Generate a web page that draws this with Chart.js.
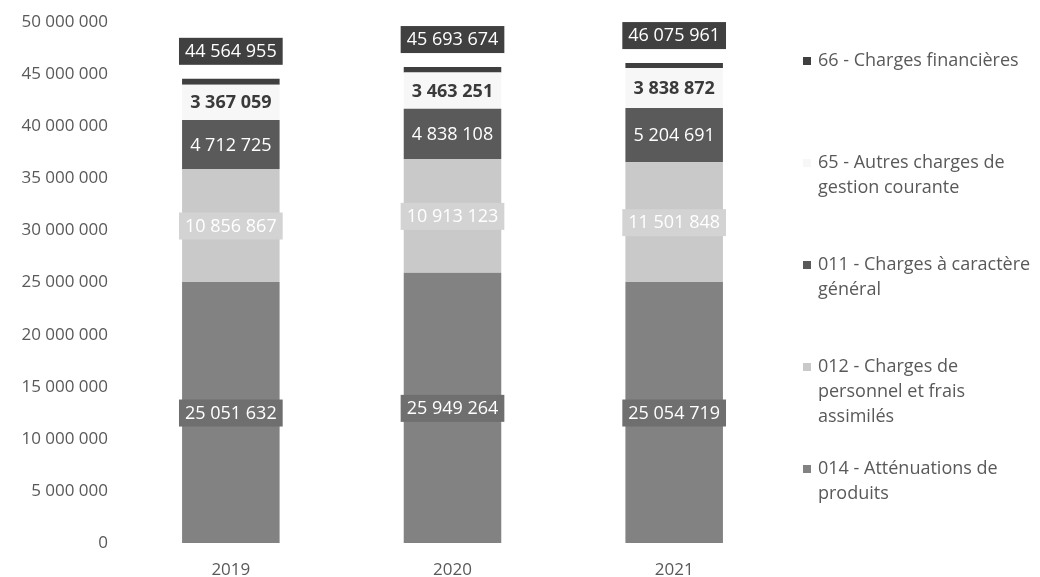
<!DOCTYPE html>
<html>
<head>
<meta charset="utf-8">
<script src="https://cdn.jsdelivr.net/npm/chart.js@4.4.0/dist/chart.umd.min.js"></script>
<style>
  html, body { margin: 0; background: #fff; }
  #wrap { width: 1040px; height: 577px; position: relative; }
</style>
</head>
<body>
<div id="wrap"><canvas id="chargesChart"></canvas></div>
<script>
// Data
const years = ['2019', '2020', '2021'];
const attenuations = [25051632, 25949264, 25054719];      // 014
const personnel = [10856867, 10913123, 11501848];         // 012
const chargesGenerales = [4712725, 4838108, 5204691];     // 011
const autresCharges = [3367059, 3463251, 3838872];        // 65
const chargesFinancieres = [576672, 529928, 475831];      // 66
const totals = [44564955, 45693674, 46075961];
const yMax = 50000000;
const yStep = 5000000;

const FONT = "'Open Sans', sans-serif";
const TXT = '#595959';

function fmt(n) {
  return String(n).replace(/\B(?=(\d{3})+(?!\d))/g, ' ');
}

// label look for each stacked segment (null = no label)
const labelStyles = [
  { box: '#6f6f6f', color: '#ffffff', bold: false },
  { box: '#d3d3d3', color: '#ffffff', bold: false },
  { box: null, color: '#ffffff', bold: false },
  { box: null, color: '#3a3a3a', bold: true },
  null
];

const legendLines = [
  ['66 - Charges financières'],
  ['65 - Autres charges de', 'gestion courante'],
  ['011 - Charges à caractère', 'général'],
  ['012 - Charges de', 'personnel et frais', 'assimilés'],
  ['014 - Atténuations de', 'produits']
];

const datasets = [
  { label: '014 - Atténuations de produits', data: attenuations, backgroundColor: '#828282' },
  { label: '012 - Charges de personnel et frais assimilés', data: personnel, backgroundColor: '#c9c9c9' },
  { label: '011 - Charges à caractère général', data: chargesGenerales, backgroundColor: '#5a5a5a' },
  { label: '65 - Autres charges de gestion courante', data: autresCharges, backgroundColor: '#f7f7f7' },
  { label: '66 - Charges financières', data: chargesFinancieres, backgroundColor: '#3f3f3f' }
];

function drawBoxText(ctx, text, x, y, style) {
  ctx.font = (style.bold ? 'bold ' : '') + '18px ' + FONT;
  const w = ctx.measureText(text).width;
  if (style.box) {
    ctx.fillStyle = style.box;
    ctx.fillRect(x - w / 2 - 6, y - 13, w + 12, 27);
  }
  ctx.fillStyle = style.color;
  ctx.textAlign = 'center';
  ctx.textBaseline = 'middle';
  ctx.fillText(text, x, y + 1);
}

const segmentLabels = {
  id: 'segmentLabels',
  afterDatasetsDraw(chart) {
    const ctx = chart.ctx;
    ctx.save();
    chart.data.datasets.forEach((ds, i) => {
      const style = labelStyles[i];
      if (!style) return;
      chart.getDatasetMeta(i).data.forEach((bar, j) => {
        drawBoxText(ctx, fmt(ds.data[j]), bar.x, (bar.y + bar.base) / 2, style);
      });
    });
    const last = chart.getDatasetMeta(chart.data.datasets.length - 1);
    last.data.forEach((bar, j) => {
      drawBoxText(ctx, fmt(totals[j]), bar.x, bar.y - 28, { box: '#404040', color: '#ffffff', bold: false });
    });
    ctx.restore();
  }
};

const sideLegend = {
  id: 'sideLegend',
  afterDraw(chart) {
    const ctx = chart.ctx;
    ctx.save();
    ctx.font = '18px ' + FONT;
    ctx.textBaseline = 'middle';
    ctx.textAlign = 'left';
    const order = datasets.slice().reverse();
    legendLines.forEach((lines, i) => {
      const top = 61 + i * 102;
      ctx.fillStyle = order[i].backgroundColor;
      ctx.fillRect(803, top - 4, 8, 8);
      ctx.fillStyle = TXT;
      lines.forEach((line, k) => ctx.fillText(line, 818, top + k * 25));
    });
    ctx.restore();
  }
};

new Chart(document.getElementById('chargesChart'), {
  type: 'bar',
  data: { labels: years, datasets: datasets },
  plugins: [segmentLabels, sideLegend],
  options: {
    responsive: true,
    maintainAspectRatio: false,
    animation: false,
    layout: { padding: { top: 22, right: 255, bottom: 0, left: 0 } },
    plugins: { legend: { display: false }, tooltip: { enabled: false } },
    datasets: { bar: { categoryPercentage: 0.88, barPercentage: 0.5 } },
    scales: {
      x: {
        stacked: true,
        grid: { display: false },
        border: { display: false },
        ticks: { color: TXT, font: { family: FONT, size: 17 }, padding: 9 },
        afterFit(scale) { scale.height = 34; }
      },
      y: {
        stacked: true,
        min: 0,
        max: yMax,
        grid: { display: false, drawTicks: false },
        border: { display: false },
        ticks: {
          stepSize: yStep,
          color: TXT,
          font: { family: FONT, size: 17 },
          padding: 12,
          callback: v => fmt(v)
        },
        afterFit(scale) { scale.width = 120; }
      }
    }
  }
});
</script>
</body>
</html>
